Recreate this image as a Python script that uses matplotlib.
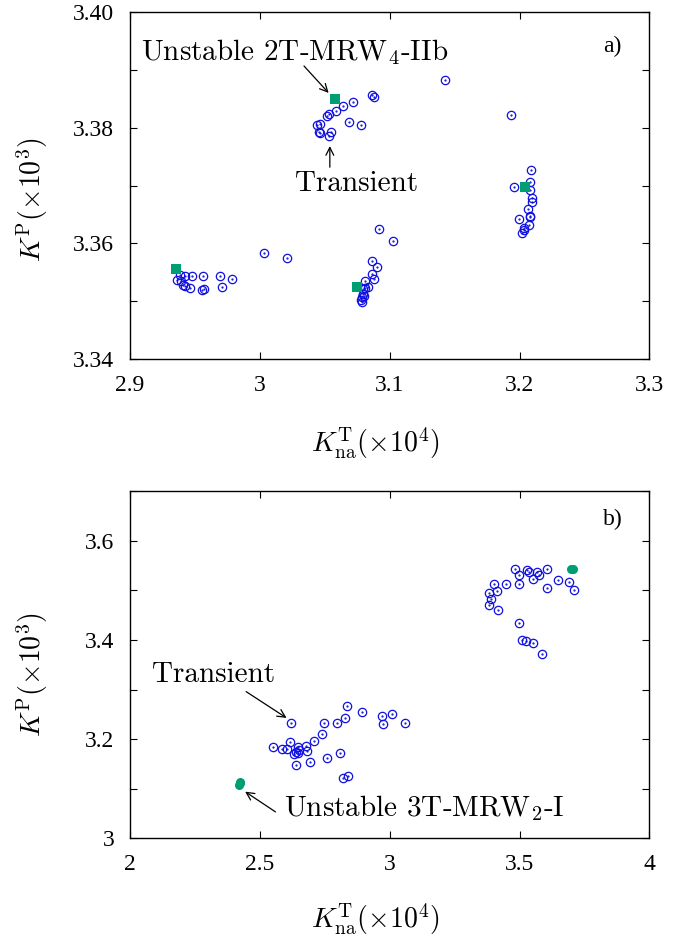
import matplotlib
matplotlib.use('Agg')
import matplotlib.pyplot as plt
from matplotlib.ticker import MultipleLocator, FormatStrFormatter

plt.rcParams['font.family'] = ['Liberation Serif', 'DejaVu Serif']
plt.rcParams['mathtext.fontset'] = 'cm'

BLUE = '#1010e0'
GREEN = '#009e73'

# panel a) transient points
a_x = [3.1428, 3.0867, 3.0877, 3.0723, 3.0644, 3.0587, 3.0531, 3.0518, 3.0446, 3.0467,
       3.0454, 3.0467, 3.0549, 3.0538, 3.0692, 3.0777,
       3.1935, 3.2090, 3.2077, 3.1954, 3.2082, 3.2097, 3.2095, 3.2064, 3.2082, 3.2077,
       3.1995, 3.2074, 3.2038, 3.2031, 3.2021,
       2.9390, 2.9423, 2.9482, 2.9564, 2.9697, 2.9790, 2.9367, 2.9397, 2.9410, 2.9428,
       2.9469, 2.9559, 2.9572, 2.9710, 3.0036, 3.0215,
       3.0920, 3.1026, 3.0867, 3.0903, 3.0867, 3.0877, 3.0815, 3.0833, 3.0808, 3.0795,
       3.0795, 3.0787, 3.0782, 3.0787, 3.0802]
a_y = [3.3882, 3.3856, 3.3853, 3.3844, 3.3837, 3.3829, 3.3824, 3.3820, 3.3805, 3.3807,
       3.3793, 3.3791, 3.3792, 3.3786, 3.3810, 3.3805,
       3.3822, 3.3727, 3.3706, 3.3697, 3.3692, 3.3679, 3.3671, 3.3659, 3.3647, 3.3645,
       3.3643, 3.3631, 3.3627, 3.3624, 3.3618,
       3.3545, 3.3544, 3.3543, 3.3543, 3.3544, 3.3539, 3.3537, 3.3536, 3.3529, 3.3526,
       3.3523, 3.3519, 3.3521, 3.3524, 3.3583, 3.3574,
       3.3625, 3.3604, 3.3569, 3.3559, 3.3548, 3.3538, 3.3536, 3.3525, 3.3523, 3.3521,
       3.3512, 3.3507, 3.3503, 3.3499, 3.3509]
# panel a) unstable orbit 2T-MRW4-IIb
a_ux = [3.0579, 3.2046, 2.9359, 3.0749]
a_uy = [3.3850, 3.3697, 3.3556, 3.3525]

# panel b) transient points
b_x = [3.4846, 3.5296, 3.4974, 3.5358, 3.5681, 3.5769, 3.5527, 3.6065, 3.6474, 3.6912,
       3.7088, 3.6065, 3.4962, 3.4488, 3.4012, 3.4128, 3.3846, 3.3923, 3.3808, 3.4165,
       3.4987, 3.5090, 3.5231, 3.5513, 3.5873,
       2.6218, 2.8372, 2.8935, 2.9718, 3.0077, 2.9744, 3.0615, 2.8282, 2.7987, 2.7487,
       2.7397, 2.7090, 2.6795, 2.6167, 2.5538, 2.5872, 2.6051, 2.6474, 2.6538, 2.6821,
       2.6410, 2.6321, 2.6487, 2.6385, 2.6923, 2.7603, 2.8115, 2.8397, 2.8205]
b_y = [3.5427, 3.5407, 3.5306, 3.5373, 3.5373, 3.5306, 3.5226, 3.5421, 3.5206, 3.5171,
       3.5010, 3.5038, 3.5131, 3.5119, 3.5131, 3.4978, 3.4937, 3.4817, 3.4708, 3.4595,
       3.4333, 3.3990, 3.3976, 3.3941, 3.3714,
       3.2317, 3.2665, 3.2538, 3.2470, 3.2510, 3.2302, 3.2323, 3.2430, 3.2329, 3.2323,
       3.2101, 3.1960, 3.1865, 3.1946, 3.1833, 3.1804, 3.1804, 3.1833, 3.1778, 3.1752,
       3.1744, 3.1698, 3.1711, 3.1482, 3.1530, 3.1611, 3.1712, 3.1260, 3.1220]
# panel b) unstable orbit 3T-MRW2-I (stays near two points)
b_ux = [3.6995, 3.7027, 3.7060, 2.4228, 2.4231, 2.4234]
b_uy = [3.5420, 3.5423, 3.5420, 3.1075, 3.1106, 3.1137]

fig = plt.figure(figsize=(6.9, 9.46), dpi=100)
ax1 = fig.add_axes([0.1877, 0.6202, 0.7536, 0.3674])
ax2 = fig.add_axes([0.1877, 0.1138, 0.7536, 0.3671])


def scatter_panel(ax, x, y, ux, uy, umarker, ums):
    ax.plot(x, y, 'o', ls='none', mfc='none', mec=BLUE, mew=0.9, ms=6.0)
    ax.plot(x, y, '.', ls='none', color=BLUE, ms=1.2)
    ax.plot(ux, uy, umarker, ls='none', color=GREEN, ms=ums, mew=0)


scatter_panel(ax1, a_x, a_y, a_ux, a_uy, 's', 6.8)
scatter_panel(ax2, b_x, b_y, b_ux, b_uy, 'o', 6.5)

ax1.set_xlim(2.9, 3.3)
ax1.set_ylim(3.34, 3.40)
ax1.xaxis.set_major_locator(MultipleLocator(0.1))
ax1.yaxis.set_major_locator(MultipleLocator(0.02))
ax1.yaxis.set_minor_locator(MultipleLocator(0.01))
ax1.xaxis.set_major_formatter(FormatStrFormatter('%g'))
ax1.yaxis.set_major_formatter(FormatStrFormatter('%.2f'))

ax2.set_xlim(2, 4)
ax2.set_ylim(3.0, 3.7)
ax2.xaxis.set_major_locator(MultipleLocator(0.5))
ax2.yaxis.set_major_locator(MultipleLocator(0.2))
ax2.yaxis.set_minor_locator(MultipleLocator(0.1))
ax2.xaxis.set_major_formatter(FormatStrFormatter('%g'))
ax2.yaxis.set_major_formatter(FormatStrFormatter('%g'))

for ax, xl_y, yl_y in [(ax1, -0.19, 0.458), (ax2, -0.18, 0.47)]:
    ax.tick_params(which='both', direction='in', top=True, right=True,
                   labelsize=17, pad=11)
    ax.tick_params(which='major', length=5, width=0.8)
    ax.tick_params(which='minor', length=5, width=0.8)
    for s in ax.spines.values():
        s.set_linewidth(1.0)
    ax.set_xlabel(r'$K^{\mathrm{T}}_{\mathrm{na}}(\times 10^4)$', fontsize=20)
    ax.set_ylabel(r'$K^{\mathrm{P}}(\times 10^3)$', fontsize=20)
    ax.xaxis.set_label_coords(0.473, xl_y)
    ax.yaxis.set_label_coords(-0.152, yl_y)

ann = dict(family=['cmr10', 'DejaVu Serif'], fontsize=21, ha='center', va='center')
arrow = dict(arrowstyle='->', color='black', lw=0.9, mutation_scale=14)

ax1.text(3.0273, 3.3930, r'Unstable 2T-MRW$_4$-IIb', **ann)
ax1.annotate('', xy=(3.0546, 3.38563), xytext=(3.0328, 3.39098), arrowprops=arrow)
ax1.text(3.0745, 3.37027, 'Transient', **ann)
ax1.annotate('', xy=(3.0541, 3.37729), xytext=(3.0541, 3.37268), arrowprops=arrow)
ax1.text(0.929, 0.90, 'a)', transform=ax1.transAxes, fontsize=17, ha='center', va='center')

ax2.text(2.325, 3.329, 'Transient', **ann)
ax2.annotate('', xy=(2.6127, 3.2397), xytext=(2.4396, 3.2988), arrowprops=arrow)
ax2.text(3.1346, 3.0609, r'Unstable 3T-MRW$_2$-I', **ann)
ax2.annotate('', xy=(2.4358, 3.0972), xytext=(2.5704, 3.0502), arrowprops=arrow)
ax2.text(0.929, 0.919, 'b)', transform=ax2.transAxes, fontsize=17, ha='center', va='center')

fig.savefig('out.png', dpi=100)
